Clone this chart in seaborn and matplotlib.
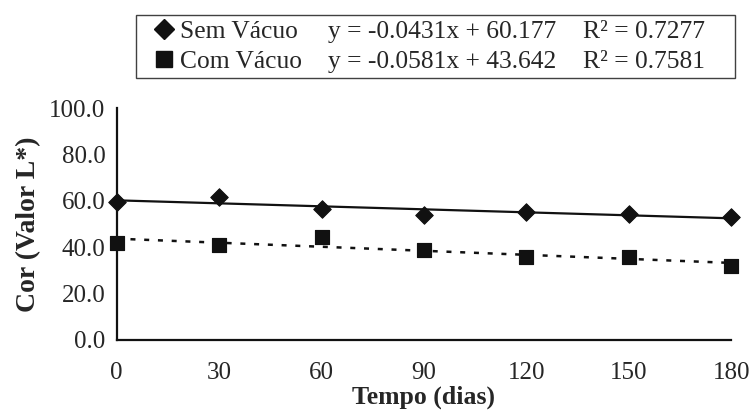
import numpy as np
import pandas as pd
import seaborn as sns
import matplotlib.pyplot as plt
from matplotlib.lines import Line2D

dias = [0, 30, 60, 90, 120, 150, 180]
sem_vacuo = [59.5, 61.6, 56.6, 53.7, 55.0, 54.3, 52.9]
com_vacuo = [41.7, 40.9, 44.4, 38.8, 35.6, 35.7, 31.8]

# trend line coefficients as printed in the legend
sem_coef = [-0.0431, 60.177]
com_coef = [-0.0581, 43.642]
sem_r2 = 0.7277
com_r2 = 0.7581

sns.set_style("white")
plt.rcParams['font.family'] = ['Liberation Serif', 'DejaVu Serif']

fig = plt.figure(figsize=(7.53, 4.17), dpi=100)
ax = fig.add_axes([0.155, 0.185, 0.816, 0.556])

df = pd.DataFrame({'dias': dias, 'sem': sem_vacuo, 'com': com_vacuo})
df['sem_fit'] = sem_coef[0] * df['dias'] + sem_coef[1]
df['com_fit'] = com_coef[0] * df['dias'] + com_coef[1]

sns.lineplot(data=df, x='dias', y='sem_fit', ax=ax, color='#111111', linewidth=1.6)
sns.lineplot(data=df, x='dias', y='com_fit', ax=ax, color='#111111', linewidth=1.8,
             linestyle=(0, (2, 3.5)))
sns.scatterplot(data=df, x='dias', y='sem', ax=ax, marker='D', s=80, color='#111111',
                edgecolor='#111111', zorder=3)
sns.scatterplot(data=df, x='dias', y='com', ax=ax, marker='s', s=110, color='#111111',
                edgecolor='#111111', zorder=3)

ax.set_xlim(0, 180)
ax.set_ylim(0, 100)
ax.set_xticks(dias)
ax.set_yticks(np.arange(0, 101, 20))
ax.set_yticklabels([f"{v:.1f}" for v in np.arange(0, 101, 20)])
ax.tick_params(axis='x', direction='out', length=5, width=1.2, pad=11, labelsize=18, color='#111111')
ax.tick_params(axis='y', direction='out', length=5, width=1.2, pad=3, labelsize=18, color='#111111')
ax.set_xlabel('Tempo (dias)', fontsize=18.5, fontweight='bold', labelpad=1)
ax.set_ylabel('Cor (Valor L*)', fontsize=20, fontweight='bold', labelpad=6)
for side in ['top', 'right']:
    ax.spines[side].set_visible(False)
for side in ['left', 'bottom']:
    ax.spines[side].set_color('#111111')
    ax.spines[side].set_linewidth(1.6)
for c in ax.collections:
    c.set_clip_on(False)

blank = Line2D([], [], linestyle='none')
handles = [
    Line2D([], [], linestyle='none', marker='D', markersize=10, color='#111111'),
    Line2D([], [], linestyle='none', marker='s', markersize=11, color='#111111'),
    blank, blank, blank, blank,
]
labels = [
    'Sem Vácuo', 'Com Vácuo',
    f'y = {sem_coef[0]}x + {sem_coef[1]}', f'y = {com_coef[0]}x + {com_coef[1]}',
    f'R² = {sem_r2}    ', f'R² = {com_r2}    ',
]
leg = fig.legend(handles, labels, ncol=3, loc='upper left', bbox_to_anchor=(0.1806, 0.964),
                 frameon=True, fancybox=False, edgecolor='#111111', fontsize=18.4,
                 handlelength=1.8, handletextpad=-0.27, columnspacing=-0.5,
                 borderpad=0.18, labelspacing=0.3, borderaxespad=0)
leg.get_frame().set_linewidth(1.0)

fig.savefig('out.png', dpi=100)
